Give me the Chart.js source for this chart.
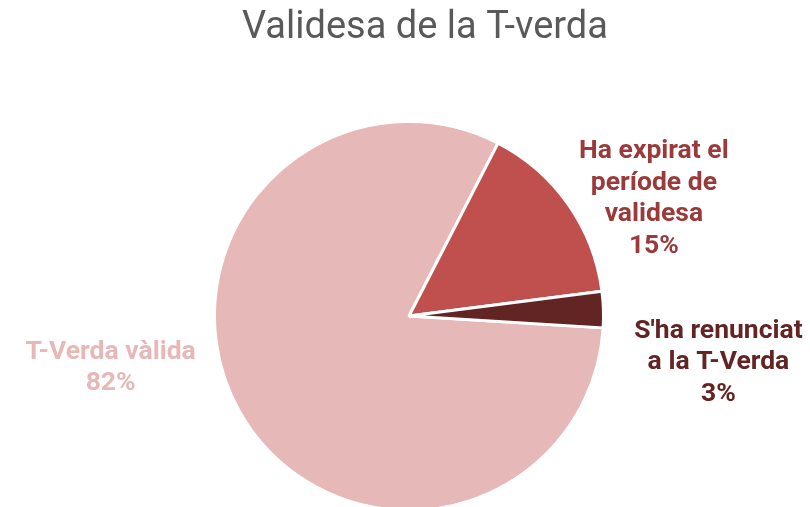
<!DOCTYPE html>
<html>
<head>
<meta charset="utf-8">
<script src="https://cdn.jsdelivr.net/npm/chart.js@4/dist/chart.umd.min.js"></script>
<style>
  html, body { margin: 0; padding: 0; background: #fff; overflow: hidden; }
  #wrap { position: relative; width: 810px; height: 507px; overflow: hidden; }
  #box { position: absolute; left: 0; top: 0; width: 810px; height: 540px; }
</style>
</head>
<body>
<div id="wrap"><div id="box"><canvas id="c"></canvas></div></div>
<script>
const chartTitle = 'Validesa de la T-verda';
const categories = ['T-Verda vàlida', 'Ha expirat el període de validesa', "S'ha renunciat a la T-Verda"];
const labelLines = [['T-Verda vàlida'], ['Ha expirat el', 'període de', 'validesa'], ["S'ha renunciat", 'a la T-Verda']];
const values = [81.6, 15.4, 3.0];
const sliceColors = ['#e6b8b7', '#c0504d', '#632523'];
const labelColors = ['#e6b8b7', '#9b3a3a', '#632523'];

// label block centre offsets, in units of the pie radius
const labelOffsets = [[-1.534, 0.267], [1.259, -0.601], [1.591, 0.241]];

const titlePlugin = {
  id: 'titleText',
  afterDraw(chart) {
    const ctx = chart.ctx;
    ctx.save();
    ctx.font = '38px Roboto';
    ctx.fillStyle = '#595959';
    ctx.textAlign = 'center';
    ctx.textBaseline = 'alphabetic';
    ctx.fillText(chartTitle, 425, 37.5);
    ctx.restore();
  }
};

const outsideLabels = {
  id: 'outsideLabels',
  afterDatasetsDraw(chart) {
    const ctx = chart.ctx;
    const meta = chart.getDatasetMeta(0);
    const total = values.reduce((a, b) => a + b, 0);
    ctx.save();
    ctx.font = 'bold 26.5px Roboto';
    ctx.textAlign = 'center';
    ctx.textBaseline = 'middle';
    const lh = 31.5;
    meta.data.forEach((arc, i) => {
      const r = arc.outerRadius;
      const lines = labelLines[i].concat([Math.round(values[i] / total * 100) + '%']);
      const cx = arc.x + labelOffsets[i][0] * r;
      const cy = arc.y + labelOffsets[i][1] * r;
      const y0 = cy - (lines.length - 1) * lh / 2;
      ctx.fillStyle = labelColors[i];
      lines.forEach((t, k) => ctx.fillText(t, cx, y0 + k * lh));
    });
    ctx.restore();
  }
};

new Chart(document.getElementById('c'), {
  type: 'pie',
  data: {
    labels: categories,
    datasets: [{
      data: values,
      backgroundColor: sliceColors,
      borderColor: '#ffffff',
      borderWidth: 3,
      hoverOffset: 0
    }]
  },
  options: {
    responsive: true,
    maintainAspectRatio: false,
    animation: false,
    rotation: 93.5,
    layout: { padding: { top: 120, left: 213, right: 205, bottom: 28 } },
    plugins: {
      legend: { display: false },
      tooltip: { enabled: false },
      title: { display: false }
    }
  },
  plugins: [outsideLabels, titlePlugin]
});
</script>
</body>
</html>
